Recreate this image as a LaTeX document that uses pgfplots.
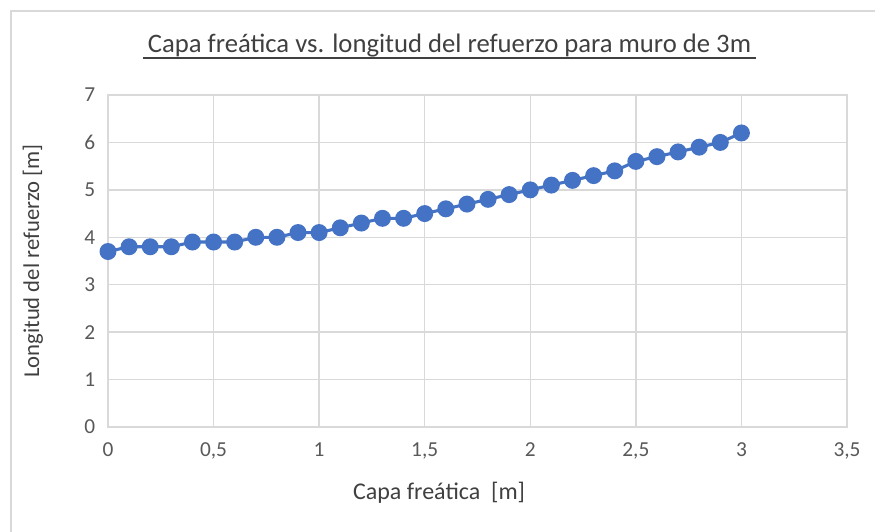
\documentclass[border=0pt]{standalone}
\usepackage{pgfplots}
\pgfplotsset{compat=1.18}
\usepackage{fontspec}
\setmainfont{Carlito}
\definecolor{serie}{HTML}{4472C4}
\definecolor{gridc}{HTML}{D9D9D9}
\definecolor{txt}{HTML}{595959}
\definecolor{ttl}{HTML}{404040}
\begin{document}
\begin{tikzpicture}
\path[use as bounding box] (0pt,0pt) rectangle (656.25pt,399pt);
\fill[white] (0pt,0pt) rectangle (656.25pt,399pt);
\draw[gridc,line width=1.2pt] (8.25pt,-5pt) -- (8.25pt,390.75pt) -- (665pt,390.75pt);
\begin{axis}[
  at={(81pt,78.75pt)}, anchor=south west,
  scale only axis, width=554.25pt, height=249pt,
  xmin=0, xmax=3.5, ymin=0, ymax=7,
  xtick={0,0.5,...,3.5}, ytick={0,1,...,7},
  /pgf/number format/assume math mode=true,
  /pgf/number format/use comma,
  xticklabel style={font=\fontsize{16}{16}\selectfont, text=txt},
  yticklabel style={font=\fontsize{16}{16}\selectfont, text=txt},
  grid=major,
  major grid style={gridc, line width=1.1pt},
  axis line style={gridc, line width=1.1pt},
  tick style={draw=none},
  xticklabel shift=8pt, yticklabel shift=6pt,
  xlabel={Capa freática \ [m]},
  ylabel={Longitud del refuerzo [m]},
  xlabel style={font=\fontsize{18}{18}\selectfont, text=ttl, at={(axis description cs:0.448,-0.198)}, anchor=center},
  ylabel style={font=\fontsize{17}{17}\selectfont, text=ttl, at={(axis description cs:-0.1015,0.5)}, anchor=center, rotate=0},
  clip=false,
]
\addplot[serie, line width=2.3pt, mark=*, mark size=5.2pt, mark options={fill=serie, draw=serie}] coordinates {
(0,3.7)(0.1,3.8)(0.2,3.8)(0.3,3.8)(0.4,3.9)(0.5,3.9)(0.6,3.9)(0.7,4.0)(0.8,4.0)(0.9,4.1)
(1.0,4.1)(1.1,4.2)(1.2,4.3)(1.3,4.4)(1.4,4.4)(1.5,4.5)(1.6,4.6)(1.7,4.7)(1.8,4.8)(1.9,4.9)
(2.0,5.0)(2.1,5.1)(2.2,5.2)(2.3,5.3)(2.4,5.4)(2.5,5.6)(2.6,5.7)(2.7,5.8)(2.8,5.9)(2.9,6.0)
(3.0,6.2)
};
\end{axis}
\node[font=\fontsize{20}{20}\selectfont, text=ttl, inner sep=0pt, anchor=base] at (337.125pt,359.25pt) {Capa freática vs. longitud del refuerzo para muro de 3m};
\draw[ttl, line width=1.5pt] (107.25pt,355.5pt) -- (567pt,355.5pt);
\end{tikzpicture}
\end{document}
